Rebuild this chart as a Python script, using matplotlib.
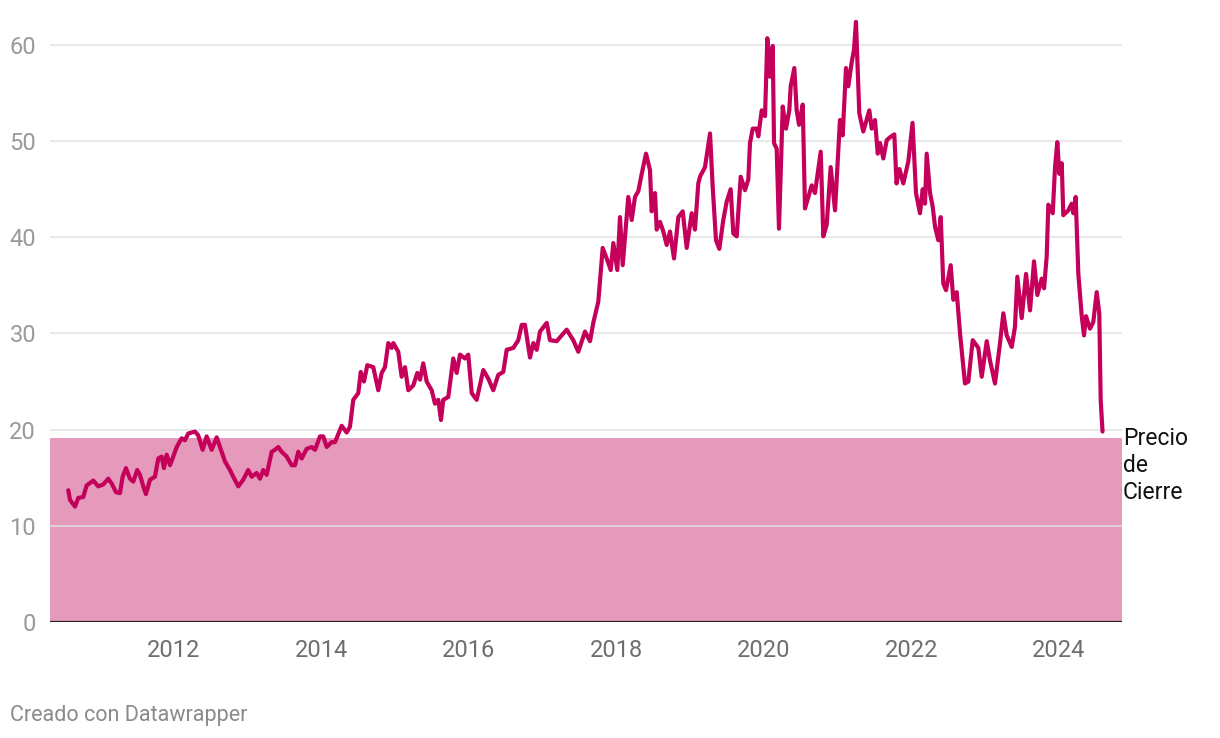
import matplotlib.pyplot as plt
from matplotlib.transforms import blended_transform_factory

plt.rcParams['font.family'] = ['Roboto', 'DejaVu Sans']

years = [2010.567, 2010.590, 2010.658, 2010.702, 2010.770, 2010.816, 2010.906, 2010.974,
         2011.041, 2011.109, 2011.155, 2011.214, 2011.268, 2011.304, 2011.349, 2011.403,
         2011.448, 2011.502, 2011.539, 2011.584, 2011.620, 2011.675, 2011.742, 2011.787,
         2011.833, 2011.864, 2011.901, 2011.946, 2011.990, 2012.037, 2012.104, 2012.149,
         2012.194, 2012.285, 2012.329, 2012.389, 2012.443, 2012.511, 2012.579, 2012.624,
         2012.691, 2012.759, 2012.804, 2012.872, 2012.940, 2013.007, 2013.054, 2013.121,
         2013.166, 2013.211, 2013.257, 2013.325, 2013.369, 2013.414, 2013.460, 2013.528,
         2013.596, 2013.641, 2013.685, 2013.732, 2013.799, 2013.867, 2013.912, 2013.980,
         2014.024, 2014.071, 2014.138, 2014.183, 2014.274, 2014.342, 2014.386, 2014.431,
         2014.499, 2014.532, 2014.576, 2014.621, 2014.702, 2014.770, 2014.816, 2014.861,
         2014.906, 2014.952, 2014.974, 2015.041, 2015.087, 2015.132, 2015.177, 2015.245,
         2015.299, 2015.336, 2015.380, 2015.426, 2015.494, 2015.539, 2015.584, 2015.620,
         2015.651, 2015.719, 2015.787, 2015.833, 2015.878, 2015.946, 2015.990, 2016.037,
         2016.104, 2016.194, 2016.262, 2016.329, 2016.397, 2016.465, 2016.511, 2016.601,
         2016.668, 2016.715, 2016.759, 2016.827, 2016.872, 2016.918, 2016.963, 2017.054,
         2017.098, 2017.189, 2017.325, 2017.414, 2017.482, 2017.573, 2017.641, 2017.685,
         2017.753, 2017.813, 2017.867, 2017.922, 2017.957, 2018.011, 2018.047, 2018.084,
         2018.160, 2018.206, 2018.251, 2018.296, 2018.342, 2018.400, 2018.454, 2018.477,
         2018.522, 2018.545, 2018.590, 2018.635, 2018.681, 2018.725, 2018.780, 2018.838,
         2018.898, 2018.952, 2019.020, 2019.064, 2019.109, 2019.132, 2019.200, 2019.268,
         2019.304, 2019.349, 2019.394, 2019.448, 2019.494, 2019.548, 2019.584, 2019.630,
         2019.684, 2019.742, 2019.787, 2019.810, 2019.847, 2019.901, 2019.923, 2019.969,
         2020.014, 2020.045, 2020.081, 2020.118, 2020.136, 2020.172, 2020.203, 2020.254,
         2020.298, 2020.343, 2020.362, 2020.411, 2020.443, 2020.475, 2020.525, 2020.556,
         2020.601, 2020.647, 2020.691, 2020.769, 2020.804, 2020.850, 2020.904, 2020.963,
         2021.030, 2021.067, 2021.112, 2021.143, 2021.189, 2021.220, 2021.247, 2021.292,
         2021.346, 2021.428, 2021.460, 2021.505, 2021.542, 2021.573, 2021.618, 2021.664,
         2021.708, 2021.767, 2021.797, 2021.837, 2021.889, 2021.957, 2022.014, 2022.061,
         2022.115, 2022.152, 2022.183, 2022.206, 2022.251, 2022.287, 2022.319, 2022.363,
         2022.396, 2022.431, 2022.468, 2022.531, 2022.567, 2022.613, 2022.658, 2022.725,
         2022.770, 2022.830, 2022.906, 2022.952, 2023.020, 2023.064, 2023.132, 2023.200,
         2023.245, 2023.291, 2023.359, 2023.403, 2023.435, 2023.494, 2023.553, 2023.607,
         2023.661, 2023.706, 2023.765, 2023.797, 2023.833, 2023.855, 2023.915, 2023.946,
         2023.977, 2024.004, 2024.037, 2024.058, 2024.126, 2024.172, 2024.194, 2024.226,
         2024.262, 2024.308, 2024.339, 2024.366, 2024.420, 2024.465, 2024.511, 2024.546,
         2024.565, 2024.590]

precio = [13.7, 12.7, 12.0, 12.9, 13.0, 14.2, 14.7, 14.1,
          14.3, 14.9, 14.4, 13.5, 13.4, 15.1, 16.0, 14.9,
          14.6, 15.8, 15.3, 14.1, 13.3, 14.8, 15.1, 17.0,
          17.2, 16.0, 17.4, 16.3, 17.2, 18.2, 19.1, 18.9,
          19.6, 19.8, 19.4, 17.9, 19.3, 17.9, 19.2, 18.2,
          16.7, 15.8, 15.1, 14.1, 14.8, 15.8, 15.1, 15.5,
          14.9, 15.8, 15.3, 17.7, 17.9, 18.2, 17.7, 17.2,
          16.3, 16.3, 17.7, 17.0, 18.0, 18.2, 17.9, 19.3,
          19.3, 18.2, 18.7, 18.7, 20.4, 19.7, 20.3, 23.1,
          23.8, 26.0, 25.0, 26.7, 26.5, 24.1, 25.9, 26.5,
          29.0, 28.5, 29.0, 28.1, 25.5, 26.5, 24.1, 24.6,
          25.9, 25.2, 26.9, 25.0, 24.1, 22.7, 23.1, 21.0,
          23.1, 23.4, 27.4, 25.9, 27.8, 27.4, 27.8, 23.8,
          23.1, 26.2, 25.3, 24.1, 25.7, 26.0, 28.3, 28.5,
          29.3, 30.9, 30.9, 27.5, 29.0, 28.3, 30.2, 31.1,
          29.3, 29.2, 30.4, 29.3, 28.1, 30.2, 29.2, 31.1,
          33.3, 38.9, 37.8, 36.6, 39.4, 36.6, 42.1, 37.1,
          44.2, 41.8, 44.2, 44.8, 46.6, 48.7, 47.0, 42.7,
          44.6, 40.8, 41.6, 40.6, 39.2, 40.6, 37.8, 42.1,
          42.7, 38.9, 42.5, 40.8, 45.6, 46.3, 47.3, 50.8,
          45.3, 39.7, 38.8, 41.8, 43.7, 45.0, 40.4, 40.1,
          46.3, 44.9, 46.0, 49.8, 51.3, 51.3, 50.5, 53.2,
          52.6, 60.7, 56.7, 59.9, 49.8, 49.2, 40.9, 53.6,
          51.3, 53.2, 55.7, 57.6, 53.2, 51.7, 53.8, 43.0,
          44.2, 45.4, 44.6, 48.9, 40.1, 41.3, 47.3, 42.8,
          52.2, 50.6, 57.6, 55.7, 58.2, 59.5, 62.4, 52.9,
          51.0, 53.2, 51.3, 52.2, 48.7, 49.8, 48.2, 50.1,
          50.4, 50.7, 45.6, 47.1, 45.6, 47.9, 51.9, 44.6,
          42.5, 45.0, 43.5, 48.7, 44.6, 43.2, 41.1, 39.7,
          42.1, 35.2, 34.5, 37.1, 33.5, 34.3, 30.0, 24.8,
          25.0, 29.3, 28.5, 25.5, 29.2, 27.2, 24.8, 29.0,
          32.1, 29.8, 28.6, 30.7, 35.9, 31.6, 36.2, 32.4,
          37.5, 34.0, 35.7, 34.7, 38.0, 43.4, 42.5, 47.3,
          49.9, 46.6, 47.7, 42.3, 42.8, 43.5, 42.5, 44.2,
          36.2, 31.8, 29.8, 31.8, 30.5, 31.2, 34.3, 32.1,
          23.1, 19.8]

banda_max = 19.1
yticks = [0, 10, 20, 30, 40, 50, 60]
xticks = [2012, 2014, 2016, 2018, 2020, 2022, 2024]

fig = plt.figure(figsize=(12.2, 7.38), dpi=100)
ax = fig.add_axes([50 / 1220, 1 - 622 / 738, 1072 / 1220, 615.5 / 738])
ax.set_xlim(2010.319, 2024.854)
ax.set_ylim(0, 64)

# banda rosa y rejilla
ax.axhspan(0, banda_max, color='#e599bb', lw=0, zorder=1)
for v in yticks[1:]:
    ax.axhline(v, color='#e2e2e2', lw=1.1, zorder=1.5)
ax.axhline(0, color='#222222', lw=1.6, zorder=4)

ax.plot(years, precio, color='#c4005b', lw=3.0, solid_joinstyle='round',
        solid_capstyle='round', zorder=3)

for s in ax.spines.values():
    s.set_visible(False)
ax.set_yticks(yticks)
ax.set_yticklabels([str(v) for v in yticks])
ax.set_xticks(xticks)
ax.set_xticklabels([str(v) for v in xticks])
ax.tick_params(axis='y', length=0, pad=10, labelsize=17, labelcolor='#9a9a9a')
ax.tick_params(axis='x', length=0, pad=12, labelsize=17, labelcolor='#6e6e6e')

tr = blended_transform_factory(ax.transAxes, ax.transData)
ax.text(1.001, 20.3, 'Precio\nde\nCierre', transform=tr, ha='left', va='top',
        fontsize=16.5, color='#111111', linespacing=1.22)

fig.text(10 / 1220, 1 - 716 / 738, 'Creado con Datawrapper', ha='left', va='center',
         fontsize=15.5, color='#8a8a8a')

fig.savefig('out.png', dpi=100)
